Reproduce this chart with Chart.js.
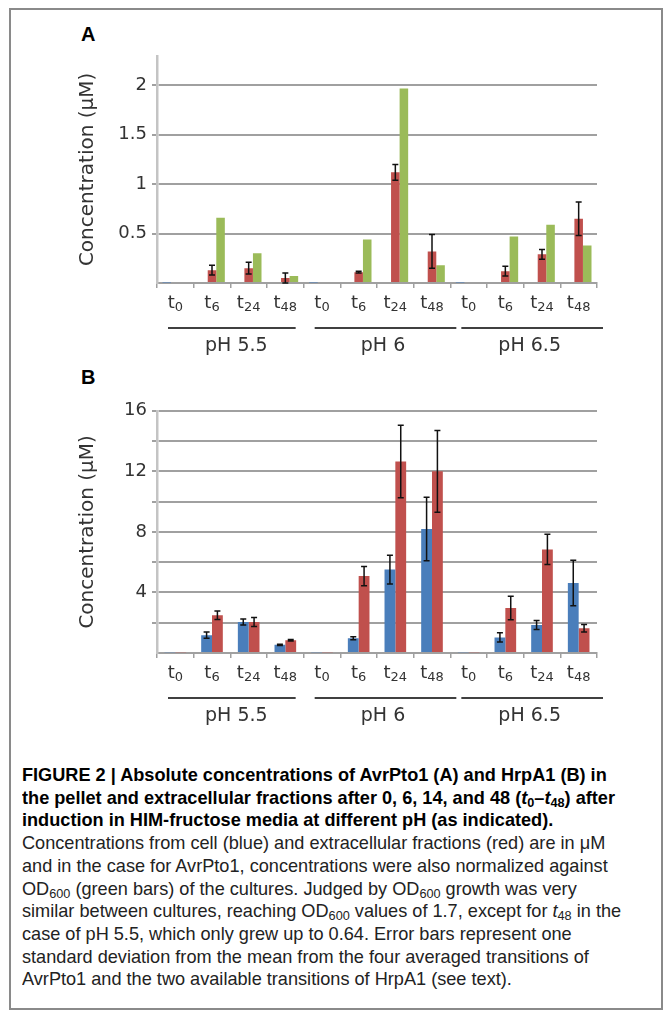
<!DOCTYPE html>
<html>
<head>
<meta charset="utf-8">
<script src="https://cdn.jsdelivr.net/npm/chart.js@4.4.1/dist/chart.umd.min.js"></script>
<style>
body { margin: 0; background: #fff; width: 671px; height: 1017px; position: relative; overflow: hidden; }
#frame { position: absolute; left: 9px; top: 8px; width: 650px; height: 998px; border: 2px solid #8a8a8a; }
.panel { position: absolute; left: 0; }
.lab { position: absolute; font: bold 20px "Liberation Sans", Arial, sans-serif; color: #000; }
#caption { position: absolute; left: 22px; top: 764px; white-space: nowrap;
  font: 19px/22.7px "Liberation Sans Narrow", "Liberation Sans", sans-serif; color: #222;
  transform: scaleX(0.955); transform-origin: 0 0; }
#caption b { color: #000; }
#caption sub { font-size: 0.7em; line-height: 0; vertical-align: -0.25em; }
</style>
</head>
<body>
<div id="frame"></div>
<div class="lab" style="left:81px;top:23px">A</div>
<div class="lab" style="left:81px;top:366px">B</div>
<canvas id="chartA" class="panel" style="top:40px" width="671" height="320"></canvas>
<canvas id="chartB" class="panel" style="top:395px" width="671" height="330"></canvas>
<div id="caption"><b>FIGURE 2 | Absolute concentrations of AvrPto1 (A) and HrpA1 (B) in<br>the pellet and extracellular fractions after 0, 6, 14, and 48 (<i>t</i><sub>0</sub>–<i>t</i><sub>48</sub>) after<br>induction in HIM-fructose media at different pH (as indicated).</b><br>Concentrations from cell (blue) and extracellular fractions (red) are in μM<br>and in the case for AvrPto1, concentrations were also normalized against<br>OD<sub>600</sub> (green bars) of the cultures. Judged by OD<sub>600</sub> growth was very<br>similar between cultures, reaching OD<sub>600</sub> values of 1.7, except for <i>t</i><sub>48</sub> in the<br>case of pH 5.5, which only grew up to 0.64. Error bars represent one<br>standard deviation from the mean from the four averaged transitions of<br>AvrPto1 and the two available transitions of HrpA1 (see text).</div>

<script>
// time points (subscripts of t) and pH groups
const timeLabels = ['0', '6', '24', '48', '0', '6', '24', '48', '0', '6', '24', '48'];
const groupLabels = ['pH 5.5', 'pH 6', 'pH 6.5'];

// panel A: AvrPto1
const aCell = [0.005, 0, 0, 0, 0.005, 0, 0.01, 0, 0.005, 0, 0.01, 0];
const aExtra = [0, 0.13, 0.15, 0.05, 0, 0.11, 1.12, 0.32, 0, 0.12, 0.29, 0.65];
const aExtraErr = [0, 0.05, 0.06, 0.05, 0, 0.01, 0.08, 0.17, 0, 0.05, 0.05, 0.17];
const aOD = [0, 0.66, 0.30, 0.07, 0, 0.44, 1.97, 0.18, 0, 0.47, 0.59, 0.38];

// panel B: HrpA1
const bCell = [0.05, 1.18, 2.05, 0.54, 0.05, 0.97, 5.51, 8.19, 0.05, 1.03, 1.85, 4.62];
const bCellErr = [0, 0.2, 0.2, 0.04, 0, 0.1, 0.95, 2.1, 0, 0.3, 0.3, 1.5];
const bExtra = [0.05, 2.5, 2.05, 0.84, 0.05, 5.08, 12.65, 12.0, 0.05, 2.97, 6.84, 1.63];
const bExtraErr = [0, 0.28, 0.3, 0.05, 0, 0.64, 2.4, 2.7, 0, 0.78, 1.0, 0.25];

const BLUE = '#4a7ebb', RED = '#c0504d', GREEN = '#9bbb59';
const FONT = '"DejaVu Sans", Verdana, sans-serif';

const errorBars = {
    id: 'errorBars',
    afterDatasetsDraw(chart) {
        const ctx = chart.ctx, y = chart.scales.y;
        chart.data.datasets.forEach((ds, i) => {
            if (!ds.errors) return;
            chart.getDatasetMeta(i).data.forEach((bar, j) => {
                const e = ds.errors[j];
                if (!e) return;
                const v = ds.data[j];
                const top = y.getPixelForValue(v + e);
                const bot = y.getPixelForValue(Math.max(v - e, 0));
                ctx.save();
                ctx.strokeStyle = '#111';
                ctx.lineWidth = 1.5;
                ctx.beginPath();
                ctx.moveTo(bar.x, top); ctx.lineTo(bar.x, bot);
                ctx.moveTo(bar.x - 3, top); ctx.lineTo(bar.x + 3, top);
                ctx.moveTo(bar.x - 3, bot); ctx.lineTo(bar.x + 3, bot);
                ctx.stroke();
                ctx.restore();
            });
        });
    }
};

// t labels with subscripts, group lines and pH labels under the x axis
const groupAxis = {
    id: 'groupAxis',
    afterDraw(chart) {
        const ctx = chart.ctx, x = chart.scales.x, b = chart.chartArea.bottom;
        ctx.save();
        ctx.fillStyle = '#333';
        ctx.textBaseline = 'middle';
        ctx.textAlign = 'left';
        timeLabels.forEach((t, i) => {
            const px = x.getPixelForValue(i);
            ctx.font = '18px ' + FONT;
            const w1 = ctx.measureText('t').width;
            ctx.font = '13px ' + FONT;
            const w2 = ctx.measureText(t).width;
            const left = px - (w1 + w2) / 2;
            ctx.font = '18px ' + FONT;
            ctx.fillText('t', left, b + 20);
            ctx.font = '13px ' + FONT;
            ctx.fillText(t, left + w1, b + 25);
        });
        const step = (x.right - x.left) / timeLabels.length;
        groupLabels.forEach((g, k) => {
            const gl = x.left + k * 4 * step, gr = gl + 4 * step;
            ctx.strokeStyle = '#000';
            ctx.lineWidth = 1.5;
            ctx.beginPath();
            ctx.moveTo(gl + 11, b + 45);
            ctx.lineTo(gr + (k ? 6 : -8), b + 45);
            ctx.stroke();
            ctx.font = '19px ' + FONT;
            ctx.textAlign = 'center';
            ctx.fillText(g, (gl + gr) / 2 + 6, b + 63);
            ctx.textAlign = 'left';
        });
        ctx.restore();
    }
};

function makeChart(id, datasets, yMax, step, labelStep, padTop, xHeight, catPct) {
    const isGrid = v => v > 0 && Math.abs(v / step - Math.round(v / step)) < 1e-6 && v <= yMax;
    return new Chart(document.getElementById(id), {
        type: 'bar',
        data: { labels: timeLabels, datasets: datasets },
        plugins: [errorBars, groupAxis],
        options: {
            responsive: false,
            animation: false,
            layout: { padding: { top: padTop, right: 74, left: 0, bottom: 0 } },
            datasets: { bar: { categoryPercentage: catPct, barPercentage: 1 } },
            plugins: { legend: { display: false }, tooltip: { enabled: false } },
            scales: {
                x: {
                    afterFit(s) { s.height = xHeight; },
                    ticks: { display: false },
                    grid: { drawOnChartArea: false, drawTicks: true, tickLength: 5, color: '#a0a0a0', lineWidth: 1.5 },
                    border: { color: '#a0a0a0', width: 2 }
                },
                y: {
                    min: 0,
                    max: yMax,
                    afterFit(s) { s.width = 157; },
                    ticks: {
                        stepSize: step,
                        padding: 5,
                        color: '#333',
                        font: { family: FONT, size: 18 },
                        callback: v => (v > 0 && Math.abs(v / labelStep - Math.round(v / labelStep)) < 1e-6) ? v : ''
                    },
                    grid: {
                        tickLength: 5,
                        lineWidth: 2,
                        color: c => isGrid(c.tick.value) ? 'rgba(150,150,150,0.9)' : 'rgba(0,0,0,0)'
                    },
                    border: { color: '#c4c4c4', width: 2.5 },
                    title: {
                        display: true,
                        text: 'Concentration (μM)',
                        color: '#333',
                        font: { family: FONT, size: 20 },
                        padding: { top: 76, bottom: 0 }
                    }
                }
            }
        }
    });
}

makeChart('chartA', [
    { label: 'cell', data: aCell, backgroundColor: BLUE },
    { label: 'extracellular', data: aExtra, errors: aExtraErr, backgroundColor: RED },
    { label: 'OD600', data: aOD, backgroundColor: GREEN }
], 2.3, 0.5, 0.5, 13, 77, 0.7);

makeChart('chartB', [
    { label: 'cell', data: bCell, errors: bCellErr, backgroundColor: BLUE },
    { label: 'extracellular', data: bExtra, errors: bExtraErr, backgroundColor: RED }
], 16, 2, 4, 15, 72, 0.59);
</script>
</body>
</html>
